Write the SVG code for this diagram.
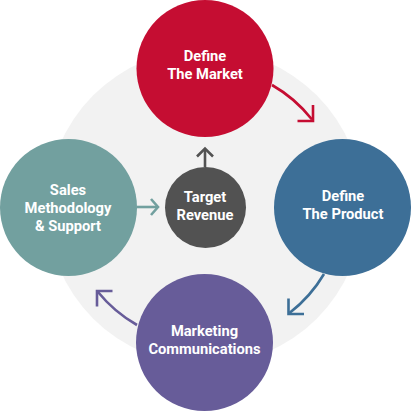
<svg xmlns="http://www.w3.org/2000/svg" width="411" height="411" viewBox="0 0 411 411">
<style>
.lbl{font-family:Roboto,"Liberation Sans",Arial,sans-serif;font-weight:bold;font-size:14.7px;fill:#ffffff;text-anchor:middle}
.arr{fill:none;stroke-width:2.6;stroke-linecap:butt;stroke-linejoin:miter}
</style>
<rect width="411" height="411" fill="#ffffff"/>
<circle cx="205" cy="207" r="158" fill="#f2f2f2"/>
<g id="connectors">
<path class="arr" stroke="#c50d32" d="M272,85 A138,138 0 0,1 312,119.5"/>
<polyline class="arr" stroke="#c50d32" points="313,105 313,121 297.5,121"/>
<path class="arr" stroke="#3d6f97" d="M324,274 A138,138 0 0,1 289.5,313"/>
<polyline class="arr" stroke="#3d6f97" points="288.5,298.5 288.5,314 304,314"/>
<path class="arr" stroke="#675c99" d="M137,325 A138,138 0 0,1 98,292"/>
<polyline class="arr" stroke="#675c99" points="97,306.5 97,291 112.5,291"/>
<line class="arr" stroke="#72a09f" x1="137" y1="207" x2="157" y2="207"/>
<polyline class="arr" stroke="#72a09f" points="151,199 158,207 151,215"/>
<line class="arr" stroke="#525252" x1="205" y1="167" x2="205" y2="149"/>
<polyline class="arr" stroke="#525252" points="197,156.5 205,148.5 213,156.5"/>
</g>
<g id="market">
<circle cx="205" cy="68.5" r="68.5" fill="#c50d32"/>
<text class="lbl" x="205" y="61">Define</text>
<text class="lbl" x="205" y="79">The Market</text>
</g>
<g id="product">
<circle cx="342.5" cy="207.5" r="68.5" fill="#3d6f97"/>
<text class="lbl" x="343" y="201">Define</text>
<text class="lbl" x="343" y="219">The Product</text>
</g>
<g id="marketing">
<circle cx="204.5" cy="342.5" r="68.5" fill="#675c99"/>
<text class="lbl" x="204.5" y="336">Marketing</text>
<text class="lbl" x="204.5" y="354">Communications</text>
</g>
<g id="sales">
<circle cx="68.5" cy="207.5" r="68.5" fill="#72a09f"/>
<text class="lbl" x="68" y="195">Sales</text>
<text class="lbl" x="68" y="213">Methodology</text>
<text class="lbl" x="68" y="231">&amp; Support</text>
</g>
<g id="target">
<circle cx="205.5" cy="207.5" r="40.5" fill="#525252"/>
<text class="lbl" x="205" y="202">Target</text>
<text class="lbl" x="205" y="220">Revenue</text>
</g>
</svg>
